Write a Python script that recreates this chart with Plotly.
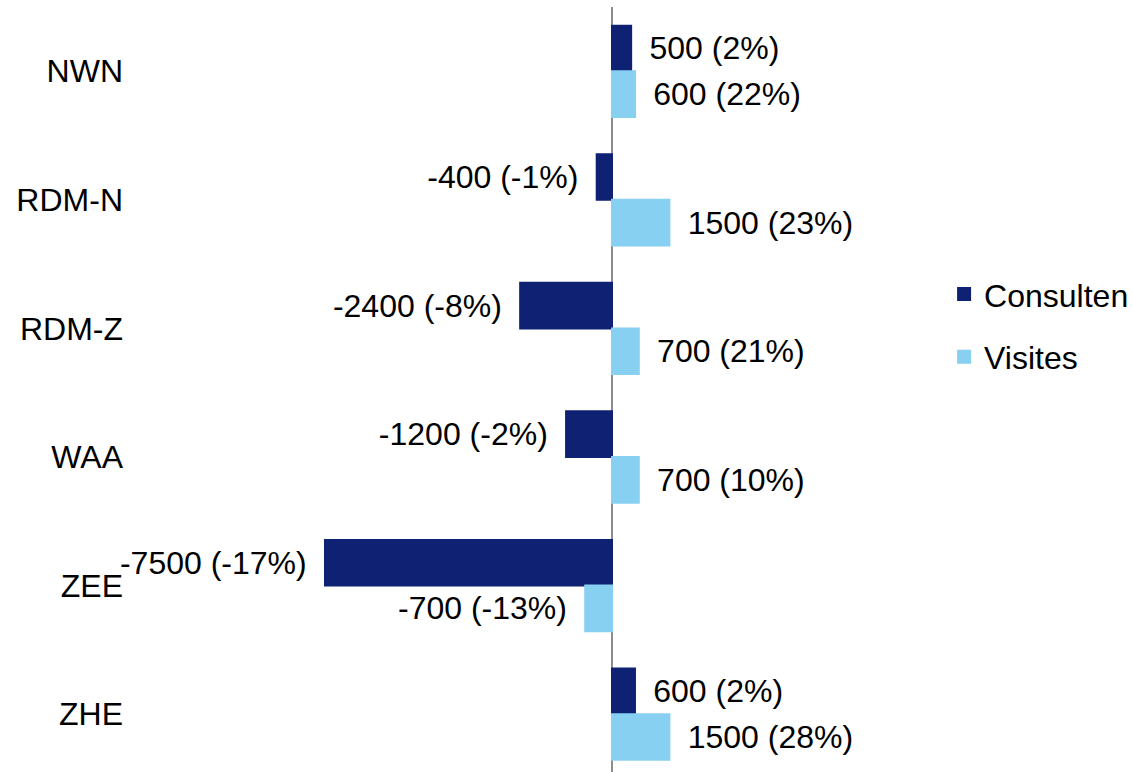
import plotly.graph_objects as go

categories = ["NWN", "RDM-N", "RDM-Z", "WAA", "ZEE", "ZHE"]
consulten = [500, -400, -2400, -1200, -7500, 600]
consulten_pct = [2, -1, -8, -2, -17, 2]
visites = [600, 1500, 700, 700, -700, 1500]
visites_pct = [22, 23, 21, 10, -13, 28]

PAD = "\u00a0\u2009"


def labels(vals, pcts):
    out = []
    for v, p in zip(vals, pcts):
        s = f"{v} ({p}%)"
        out.append(PAD + s if v >= 0 else s + PAD)
    return out


FONT = "Liberation Sans, Arial, sans-serif"
FS = 32
fig = go.Figure()
fig.add_trace(go.Bar(
    y=categories, x=consulten, orientation="h", name="Consulten",
    marker=dict(color="#0E2172", line=dict(width=2, color="#0E2172")),
    text=labels(consulten, consulten_pct), textposition="outside",
    constraintext="none", cliponaxis=False,
    textfont=dict(family=FONT, size=FS, color="#000000"),
    legendgroup="a",
))
fig.add_trace(go.Bar(
    y=categories, x=visites, orientation="h", name="Visites",
    marker=dict(color="#88D0F2", line=dict(width=2, color="#88D0F2")),
    text=labels(visites, visites_pct), textposition="outside",
    constraintext="none", cliponaxis=False,
    textfont=dict(family=FONT, size=FS, color="#000000"),
    legendgroup="b",
))

fig.update_layout(
    width=1132, height=772,
    margin=dict(l=126, r=192, t=7, b=0),
    paper_bgcolor="white", plot_bgcolor="white",
    barmode="group", bargap=0.29, bargroupgap=0,
    font=dict(family=FONT, size=FS, color="#000000"),
    showlegend=True,
    legend=dict(
        xref="container", yref="container",
        x=0.834, y=0.578, xanchor="left", yanchor="middle",
        traceorder="grouped", tracegroupgap=18,
        font=dict(family=FONT, size=FS, color="#000000"),
        bgcolor="rgba(0,0,0,0)",
    ),
    xaxis=dict(
        range=[-12700, 8571], showgrid=False, showticklabels=False,
        ticks="", zeroline=True, zerolinecolor="#8c8c8c", zerolinewidth=1.5,
        showline=False, fixedrange=True,
    ),
    yaxis=dict(
        type="category", categoryorder="array", categoryarray=categories,
        range=[5.45, -0.5], showgrid=False, ticks="", showline=False,
        ticklabelstandoff=2,
        tickfont=dict(family=FONT, size=FS, color="#000000"),
        fixedrange=True,
    ),
)

fig.write_html("out.html")
